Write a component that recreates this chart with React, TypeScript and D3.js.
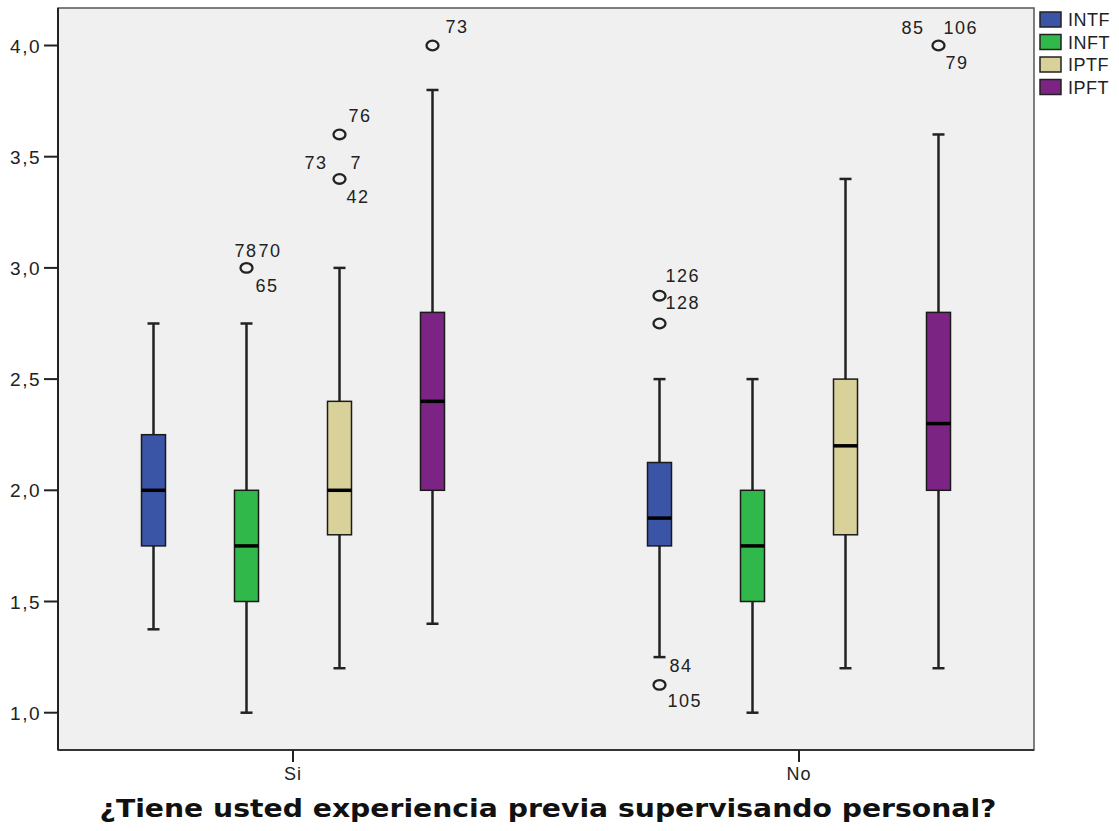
import * as d3 from 'd3';

const groups = ['Si', 'No'];
const series = ['INTF', 'INFT', 'IPTF', 'IPFT'];
const colors = ['#3a55a6', '#30b84b', '#d8d29a', '#7c2484'];

// one row per group, one value per series
const whiskerLow = [[1.375, 1.0, 1.2, 1.4], [1.25, 1.0, 1.2, 1.2]];
const q1 = [[1.75, 1.5, 1.8, 2.0], [1.75, 1.5, 1.8, 2.0]];
const median = [[2.0, 1.75, 2.0, 2.4], [1.875, 1.75, 2.2, 2.3]];
const q3 = [[2.25, 2.0, 2.4, 2.8], [2.125, 2.0, 2.5, 2.8]];
const whiskerHigh = [[2.75, 2.75, 3.0, 3.8], [2.5, 2.5, 3.4, 3.6]];

const outliers = [
  { group: 'Si', serie: 'INFT', value: 3.0, cases: ['78', '70', '65'] },
  { group: 'Si', serie: 'IPTF', value: 3.6, cases: ['76'] },
  { group: 'Si', serie: 'IPTF', value: 3.4, cases: ['73', '7', '42'] },
  { group: 'Si', serie: 'IPFT', value: 4.0, cases: ['73'] },
  { group: 'No', serie: 'INTF', value: 2.875, cases: ['126', '128'] },
  { group: 'No', serie: 'INTF', value: 2.75, cases: [] },
  { group: 'No', serie: 'INTF', value: 1.125, cases: ['84', '105'] },
  { group: 'No', serie: 'IPFT', value: 4.0, cases: ['85', '106', '79'] },
];

const yTicks = [1.0, 1.5, 2.0, 2.5, 3.0, 3.5, 4.0];

// label placement (dx, dy from the circle) for each outlier's case ids
const labelOffsets = [
  [[-12, -11], [12, -11], [9, 24]],
  [[9, -12]],
  [[-35, -10], [11, -10], [7, 24]],
  [[13, -13]],
  [[6, -14], [6, 13]],
  [],
  [[10, -13], [8, 22]],
  [[-37, -12], [5, -12], [7, 23]],
];

const W = 1119, H = 831;
const plot = { left: 58, right: 1034, top: 8, bottom: 750 };

export default function App() {
  const y = d3.scaleLinear().domain([1, 4]).range([712.7, 45.5]);
  const x = d3.scalePoint().domain(groups).range([293, 799]);
  const inner = d3.scaleBand().domain(series).range([-186, 186]);
  const boxW = 24;
  const capW = 12;
  const fmt = (v) => d3.format('.1f')(v).replace('.', ',');
  const cx = (g, s) => x(g) + inner(s) + inner.bandwidth() / 2;
  const txt = { fontFamily: '"Liberation Sans", Arial, sans-serif', fill: '#222' };

  return (
    <svg width={W} height={H} style={{ position: 'absolute', left: 0, top: 0 }}>
      <rect x={0} y={0} width={W} height={H} fill="#fff" />
      <rect x={plot.left} y={plot.top} width={plot.right - plot.left} height={plot.bottom - plot.top}
        fill="#f0f0f0" stroke="#555" strokeWidth={1.5} />
      <line x1={plot.left} x2={plot.left} y1={plot.top} y2={plot.bottom} stroke="#222" strokeWidth={2} />
      <line x1={plot.left} x2={plot.right} y1={plot.bottom} y2={plot.bottom} stroke="#333" strokeWidth={2} />

      {yTicks.map((t) => (
        <g key={t}>
          <line x1={44} x2={plot.left} y1={y(t)} y2={y(t)} stroke="#222" strokeWidth={2} />
          <text x={41} y={y(t) + 7} textAnchor="end" fontSize={19} letterSpacing={1.5} {...txt}>{fmt(t)}</text>
        </g>
      ))}

      {groups.map((g) => (
        <g key={g}>
          <line x1={x(g)} x2={x(g)} y1={plot.bottom} y2={plot.bottom + 12} stroke="#222" strokeWidth={2} />
          <text x={x(g)} y={780} textAnchor="middle" fontSize={18} letterSpacing={1} {...txt}>{g}</text>
        </g>
      ))}

      {groups.map((g, gi) => series.map((s, si) => {
        const c = cx(g, s);
        return (
          <g key={g + s}>
            <line x1={c} x2={c} y1={y(whiskerHigh[gi][si])} y2={y(q3[gi][si])} stroke="#222" strokeWidth={2.5} />
            <line x1={c} x2={c} y1={y(q1[gi][si])} y2={y(whiskerLow[gi][si])} stroke="#222" strokeWidth={2.5} />
            <line x1={c - capW / 2} x2={c + capW / 2} y1={y(whiskerHigh[gi][si])} y2={y(whiskerHigh[gi][si])} stroke="#222" strokeWidth={2.5} />
            <line x1={c - capW / 2} x2={c + capW / 2} y1={y(whiskerLow[gi][si])} y2={y(whiskerLow[gi][si])} stroke="#222" strokeWidth={2.5} />
            <rect x={c - boxW / 2} y={y(q3[gi][si])} width={boxW} height={y(q1[gi][si]) - y(q3[gi][si])}
              fill={colors[si]} stroke="#1a1a1a" strokeWidth={1.5} />
            <line x1={c - boxW / 2} x2={c + boxW / 2} y1={y(median[gi][si])} y2={y(median[gi][si])} stroke="#000" strokeWidth={3.5} />
          </g>
        );
      }))}

      {outliers.map((o, i) => {
        const c = cx(o.group, o.serie);
        const cy = y(o.value);
        return (
          <g key={i}>
            <ellipse cx={c} cy={cy} rx={6} ry={4.8} fill="none" stroke="#222" strokeWidth={2.3} />
            {o.cases.map((id, k) => (
              <text key={k} x={c + labelOffsets[i][k][0]} y={cy + labelOffsets[i][k][1]}
                fontSize={18} letterSpacing={1.5} {...txt}>{id}</text>
            ))}
          </g>
        );
      })}

      {series.map((s, i) => (
        <g key={s} transform={`translate(1040, ${12 + i * 22.5})`}>
          <rect x={0} y={0} width={21} height={15} fill={colors[i]} stroke="#222" strokeWidth={1.5} />
          <text x={28} y={14} fontSize={18} letterSpacing={0.5} {...txt}>{s}</text>
        </g>
      ))}

      <text x={548} y={817} textAnchor="middle" fontSize={24} fontWeight="bold"
        fontFamily='"DejaVu Sans", Verdana, sans-serif' fill="#111"
        textLength={897} lengthAdjust="spacingAndGlyphs">¿Tiene usted experiencia previa supervisando personal?</text>
    </svg>
  );
}
